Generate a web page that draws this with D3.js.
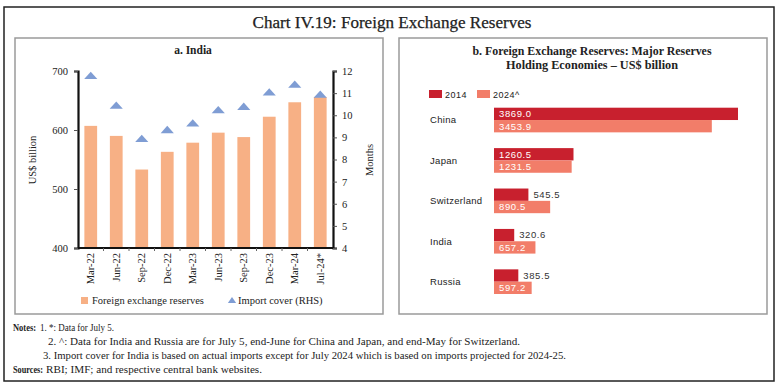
<!DOCTYPE html>
<html>
<head>
<meta charset="utf-8">
<script src="https://cdn.jsdelivr.net/npm/d3@7"></script>
<style>
  body { margin: 0; background: #fff; }
  text { fill: #222; }
</style>
</head>
<body>
<svg id="chart" width="784" height="388"></svg>
<script>
// panel a data
var quarters = ["Mar-22", "Jun-22", "Sep-22", "Dec-22", "Mar-23", "Jun-23", "Sep-23", "Dec-23", "Mar-24", "Jul-24*"];
var reserves = [607, 590, 533, 563, 578.5, 595.5, 588, 622.5, 647, 656];
var importCover = [11.75, 10.4, 8.9, 9.3, 9.6, 10.2, 10.35, 11.0, 11.35, 10.9];
var leftTicks = [400, 500, 600, 700];
var rightTicks = [4, 5, 6, 7, 8, 9, 10, 11, 12];

// panel b data
var countries = ["China", "Japan", "Switzerland", "India", "Russia"];
var res2014 = [3869.0, 1260.5, 545.5, 320.6, 385.5];
var res2024 = [3453.9, 1231.5, 890.5, 657.2, 597.2];
var seriesNames = ["2014", "2024^"];

var notes = [
    "1.  *: Data for July 5.",
    "2.  ^: Data for India and Russia are for July 5, end-June for China and Japan, and end-May for Switzerland.",
    "3. Import cover for India is based on actual imports except for July 2024 which is based on imports projected for 2024-25."
];

var serif = "'Liberation Serif', 'DejaVu Serif', serif";
var sans = "'Liberation Sans', Arial, sans-serif";

var svg = d3.select("#chart");

// frame + panels
svg.append("rect").attr("x", 4).attr("y", 7).attr("width", 770).attr("height", 374)
    .attr("fill", "none").attr("stroke", "#222").attr("stroke-width", 1.5);
svg.append("rect").attr("x", 15).attr("y", 38).attr("width", 368).attr("height", 276)
    .attr("fill", "none").attr("stroke", "#9a9a9a").attr("stroke-width", 1.5);
svg.append("rect").attr("x", 399).attr("y", 38).attr("width", 368).attr("height", 276)
    .attr("fill", "none").attr("stroke", "#9a9a9a").attr("stroke-width", 1.5);

svg.append("text").attr("x", 392).attr("y", 28).attr("text-anchor", "middle")
    .style("font-family", serif).style("font-size", "17px")
    .style("stroke", "#222").style("stroke-width", "0.25px")
    .attr("textLength", 279).attr("lengthAdjust", "spacingAndGlyphs")
    .text("Chart IV.19: Foreign Exchange Reserves");

// ---------- panel a ----------
var x = d3.scaleBand().domain(quarters).range([78, 333]).paddingInner(0.5).paddingOuter(0.25);
var yL = d3.scaleLinear().domain([400, 700]).range([248, 71]);
var yR = d3.scaleLinear().domain([4, 12]).range([248, 71]);

var a = svg.append("g");

a.append("text").attr("x", 193).attr("y", 54).attr("text-anchor", "middle")
    .style("font-family", serif).style("font-size", "11.5px").style("font-weight", "bold")
    .text("a. India");

a.selectAll("rect.bar")
    .data(quarters)
    .enter()
    .append("rect")
    .attr("class", "bar")
    .attr("x", function(d) { return x(d); })
    .attr("width", x.bandwidth())
    .attr("y", function(d, i) { return yL(reserves[i]); })
    .attr("height", function(d, i) { return yL(400) - yL(reserves[i]); })
    .attr("fill", "#f7b085");

var tri = d3.symbol().type(d3.symbolTriangle).size(60);
a.selectAll("path.cover")
    .data(quarters)
    .enter()
    .append("path")
    .attr("class", "cover")
    .attr("d", tri)
    .attr("fill", "#7f9dd4")
    .attr("transform", function(d, i) {
        return "translate(" + (x(d) + x.bandwidth() / 2) + "," + yR(importCover[i]) + ") scale(1.12,0.72)";
    });

// axes
var axL = a.append("g").attr("transform", "translate(78,0)")
    .call(d3.axisLeft(yL).tickValues(leftTicks).tickSize(4).tickPadding(6));
var axR = a.append("g").attr("transform", "translate(333,0)")
    .call(d3.axisRight(yR).tickValues(rightTicks).tickSize(4).tickPadding(5));
var axB = a.append("g").attr("transform", "translate(0,248)")
    .call(d3.axisBottom(x).tickSize(0).tickPadding(5));

[axL, axR].forEach(function(g) {
    g.select(".domain").attr("stroke", "#111").attr("stroke-width", 2.2);
    g.selectAll(".tick line").attr("stroke", "#555");
    g.selectAll("text").style("font-family", serif).style("font-size", "10.5px").attr("fill", "#333");
});
axB.select(".domain").attr("stroke", "#111").attr("stroke-width", 2.2).attr("d", "M78,0H333");
axB.selectAll("text")
    .style("font-family", serif).style("font-size", "10.5px").attr("fill", "#333")
    .attr("transform", "rotate(-90)")
    .attr("x", -5).attr("y", 0).attr("dy", "0.35em")
    .style("text-anchor", "end");

// small ticks at band edges on the category axis
a.selectAll("line.edge")
    .data(quarters.slice(1))
    .enter()
    .append("line")
    .attr("class", "edge")
    .attr("x1", function(d) { return x(d) - x.step() * x.paddingInner() / 2; })
    .attr("x2", function(d) { return x(d) - x.step() * x.paddingInner() / 2; })
    .attr("y1", 248).attr("y2", 251)
    .attr("stroke", "#666");

a.append("text").attr("transform", "translate(36,160) rotate(-90)").attr("text-anchor", "middle")
    .style("font-family", serif).style("font-size", "10.5px").text("US$ billion");
a.append("text").attr("transform", "translate(373,160) rotate(-90)").attr("text-anchor", "middle")
    .style("font-family", serif).style("font-size", "10.5px").text("Months");

// legend a
a.append("rect").attr("x", 81).attr("y", 297).attr("width", 7).attr("height", 7).attr("fill", "#f7b085");
a.append("text").attr("x", 92).attr("y", 304).style("font-family", serif).style("font-size", "10.5px")
    .attr("fill", "#333").text("Foreign exchange reserves");
a.append("path").attr("d", tri).attr("fill", "#7f9dd4")
    .attr("transform", "translate(232,301) scale(0.7,0.6)");
a.append("text").attr("x", 238).attr("y", 304).style("font-family", serif).style("font-size", "10.5px")
    .attr("fill", "#333").text("Import cover (RHS)");

// ---------- panel b ----------
var b = svg.append("g");
b.append("text").attr("x", 592).attr("y", 55).attr("text-anchor", "middle")
    .style("font-family", serif).style("font-size", "11.5px").style("font-weight", "bold")
    .attr("textLength", 239).attr("lengthAdjust", "spacingAndGlyphs")
    .text("b. Foreign Exchange Reserves: Major Reserves");
b.append("text").attr("x", 592).attr("y", 69).attr("text-anchor", "middle")
    .style("font-family", serif).style("font-size", "11.5px").style("font-weight", "bold")
    .attr("textLength", 172).attr("lengthAdjust", "spacingAndGlyphs")
    .text("Holding Economies \u2013 US$ billion");

var colors = ["#c8202e", "#f27d69"];
var xb = d3.scaleLinear().domain([0, 3869]).range([494, 738]);
var yb = d3.scaleBand().domain(countries).range([107.7, 294]).paddingInner(0.39).paddingOuter(0);
var ys = d3.scaleBand().domain(seriesNames).range([0, yb.bandwidth()]);

// legend b
seriesNames.forEach(function(s, i) {
    var lx = [429, 477][i];
    b.append("rect").attr("x", lx).attr("y", 90).attr("width", 13).attr("height", 8).attr("fill", colors[i]);
    b.append("text").attr("x", lx + 16).attr("y", 98).style("font-family", sans).style("font-size", "9px")
        .style("letter-spacing", "0.5px").attr("fill", "#333").text(s);
});

b.selectAll("text.country")
    .data(countries)
    .enter()
    .append("text")
    .attr("class", "country")
    .attr("x", 430)
    .attr("y", function(d) { return yb(d) + yb.bandwidth() / 2; })
    .attr("dy", "0.35em")
    .style("font-family", sans).style("font-size", "9.5px").style("letter-spacing", "0.3px")
    .attr("fill", "#333")
    .text(function(d) { return d; });

[res2014, res2024].forEach(function(vals, si) {
    var g = b.append("g");
    g.selectAll("rect")
        .data(countries)
        .enter()
        .append("rect")
        .attr("x", xb(0))
        .attr("y", function(d) { return yb(d) + ys(seriesNames[si]); })
        .attr("width", function(d, i) { return xb(vals[i]) - xb(0); })
        .attr("height", ys.bandwidth())
        .attr("fill", colors[si]);
    g.selectAll("text")
        .data(countries)
        .enter()
        .append("text")
        .attr("x", function(d, i) {
            var w = xb(vals[i]) - xb(0);
            return w > 36 ? xb(0) + 5 : xb(vals[i]) + 5;
        })
        .attr("y", function(d) { return yb(d) + ys(seriesNames[si]) + ys.bandwidth() / 2; })
        .attr("dy", "0.35em")
        .style("font-family", sans).style("font-size", "9.5px").style("letter-spacing", "0.6px")
        .style("fill", function(d, i) { return (xb(vals[i]) - xb(0)) > 36 ? "#fff" : "#333"; })
        .text(function(d, i) { return vals[i].toFixed(1); });
});

// ---------- notes ----------
var n = svg.append("g").style("font-family", serif).style("font-size", "10.5px");
n.append("text").attr("x", 13).attr("y", 331).style("font-weight", "bold").style("font-size", "10px")
    .attr("textLength", 23).attr("lengthAdjust", "spacingAndGlyphs").text("Notes:");
n.append("text").attr("x", 40).attr("y", 331)
    .attr("textLength", 74).attr("lengthAdjust", "spacingAndGlyphs").text(notes[0]);
n.append("text").attr("x", 48).attr("y", 345)
    .attr("textLength", 472).attr("lengthAdjust", "spacingAndGlyphs").text(notes[1]);
n.append("text").attr("x", 43).attr("y", 359)
    .attr("textLength", 523).attr("lengthAdjust", "spacingAndGlyphs").text(notes[2]);
n.append("text").attr("x", 13).attr("y", 373).style("font-weight", "bold").style("font-size", "10px")
    .attr("textLength", 30).attr("lengthAdjust", "spacingAndGlyphs").text("Sources:");
n.append("text").attr("x", 46).attr("y", 373)
    .attr("textLength", 216).attr("lengthAdjust", "spacingAndGlyphs")
    .text("RBI; IMF; and respective central bank websites.");
</script>
</body>
</html>
